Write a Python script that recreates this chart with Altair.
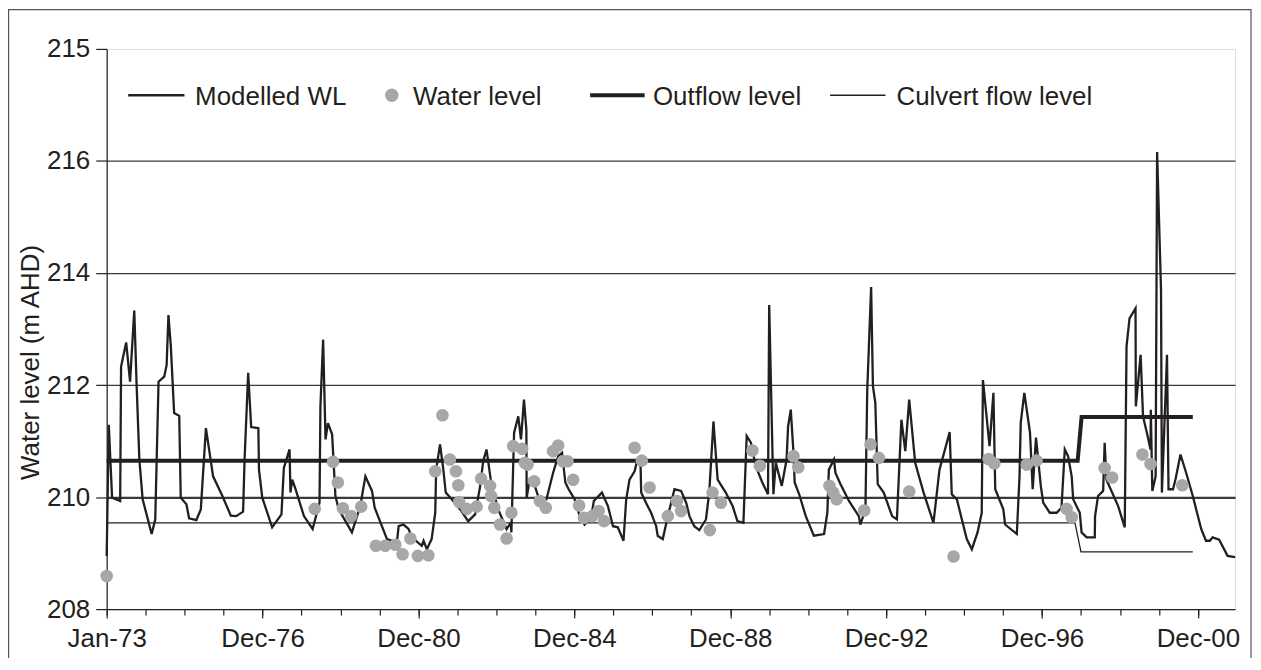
import altair as alt
import pandas as pd

# ---- data (x = category index along the axis) ----
wl_idx = [0, 0.7, 1.8, 4.5, 4.8, 6.5, 7.8, 9.2, 10.0, 10.9,
          12.0, 15.0, 16.2, 17.3, 19.2, 20.0, 20.6, 21.4, 22.5, 24.2,
          24.7, 26.6, 27.5, 29.9, 31.4, 33.1, 35.5, 38.6, 41.4, 43.2,
          45.5, 46.0, 47.2, 48.2, 50.6, 50.8, 51.9, 55.2, 58.3, 59.1,
          61.0, 61.3, 61.9, 63.0, 65.8, 68.7, 71.0, 71.3, 72.2, 73.0,
          73.8, 75.2, 76.3, 77.4, 81.8, 84.6, 86.3, 88.5, 89.4, 93.5,
          96.8, 97.4, 99.0, 100.7, 101.8, 105.1, 105.7, 106.8, 108.4, 109.6,
          109.9, 111.2, 112.3, 113.1, 115.1, 117.9, 120.6, 122.9, 124.5, 125.6,
          126.7, 128.4, 130.6, 133.4, 134.8, 135.0, 135.9, 137.3, 138.2, 139.2,
          140.0, 140.1, 141.1, 142.8, 143.9, 146.7, 148.9, 150.6, 151.9, 153.0,
          154.1, 156.1, 157.8, 159.4, 161.6, 162.5, 165.2, 167.2, 168.9, 170.5,
          172.4, 173.3, 174.4, 176.1, 176.9, 178.1, 178.3, 179.9, 181.6, 183.3,
          183.8, 185.5, 187.2, 189.4, 191.6, 193.3, 194.4, 196.0, 197.7, 199.9,
          201.0, 202.4, 203.8, 206.5, 208.8, 210.4, 212.4, 212.9, 213.5, 214.9,
          216.5, 218.7, 220.6, 221.0, 222.4, 223.2, 225.2, 226.8, 227.3, 228.2,
          229.1, 229.5, 231.0, 233.2, 235.9, 239.3, 240.4, 240.9, 242.6, 243.1,
          244.8, 247.6, 250.9, 251.4, 253.1, 253.7, 255.0, 255.6, 256.4, 257.2,
          259.2, 262.0, 263.6, 265.1, 266.4, 267.7, 269.7, 272.5, 275.8, 277.8,
          281.2, 281.9, 283.6, 286.9, 288.6, 290.5, 291.9, 292.3, 294.5, 295.8,
          296.4, 299.1, 299.7, 303.6, 304.5, 304.9, 306.1, 308.0, 308.9, 310.0,
          311.6, 312.4, 314.6, 316.9, 318.5, 319.6, 320.7, 321.9, 322.4, 324.6,
          325.2, 326.9, 329.6, 329.7, 330.7, 332.4, 332.9, 333.5, 337.4, 339.6,
          340.2, 341.2, 343.2, 343.3, 344.9, 345.7, 347.1, 348.2, 348.3, 348.8,
          349.9, 350.4, 351.7, 352.0, 353.7, 354.2, 355.7, 356.5, 358.2, 360.1,
          362.3, 365.1, 366.7, 368.0, 368.9, 371.1, 373.9, 376.4]
wl_val = [208.95, 211.29, 209.99, 209.93, 212.33, 212.76, 212.06, 213.33, 211.98, 210.67,
          209.96, 209.34, 209.6, 212.06, 212.15, 212.36, 213.25, 212.69, 211.5, 211.45,
          209.99, 209.87, 209.62, 209.59, 209.78, 211.23, 210.37, 210.02, 209.67, 209.66,
          209.74, 210.67, 212.22, 211.25, 211.23, 210.49, 209.99, 209.46, 209.69, 210.52,
          210.85, 210.08, 210.31, 210.14, 209.66, 209.43, 209.9, 211.62, 212.81, 211.03,
          211.32, 211.12, 210.02, 209.78, 209.37, 209.84, 210.37, 210.11, 209.81, 209.25,
          209.19, 209.48, 209.51, 209.43, 209.28, 209.13, 209.22, 209.07, 209.25, 209.72,
          210.49, 210.94, 210.49, 210.08, 209.96, 209.78, 209.57, 209.69, 210.17, 210.64,
          210.85, 210.2, 209.78, 209.43, 209.54, 209.37, 211.15, 211.44, 211.03, 211.74,
          211.2, 209.99, 210.31, 210.2, 210.02, 209.96, 210.43, 210.73, 210.79, 210.26,
          210.14, 209.96, 209.66, 209.51, 209.63, 209.93, 210.08, 209.84, 209.48, 209.46,
          209.22, 209.96, 210.31, 210.46, 210.64, 210.55, 210.08, 209.9, 209.72, 209.48,
          209.31, 209.25, 209.66, 210.14, 210.11, 209.9, 209.66, 209.48, 209.41, 209.6,
          210.08, 211.35, 210.31, 210.08, 209.84, 209.57, 209.54, 210.26, 211.09, 210.97,
          210.55, 210.26, 210.05, 213.43, 210.05, 210.61, 210.2, 210.67, 211.26, 211.56,
          210.79, 210.26, 210.05, 209.66, 209.31, 209.34, 209.72, 210.49, 210.67, 210.43,
          210.23, 209.93, 209.66, 209.51, 209.78, 211.9, 213.75, 211.98, 211.68, 210.23,
          210.08, 209.66, 209.6, 211.38, 210.82, 211.74, 210.61, 210.08, 209.54, 210.49,
          211.16, 210.05, 209.96, 209.25, 209.07, 209.37, 209.72, 212.09, 210.91, 211.86,
          210.14, 209.78, 209.51, 209.34, 210.37, 211.32, 211.86, 211.15, 210.14, 211.06,
          210.2, 209.9, 209.72, 209.72, 209.81, 210.85, 210.73, 210.37, 209.96, 209.72,
          209.37, 209.28, 209.28, 209.66, 210.02, 210.11, 210.97, 210.31, 209.84, 209.46,
          212.69, 213.19, 213.37, 211.62, 212.54, 211.44, 211.12, 210.85, 211.56, 210.11,
          210.37, 216.16, 213.7, 210.08, 212.54, 210.14, 210.14, 210.31, 210.76, 210.43,
          210.02, 209.43, 209.22, 209.22, 209.28, 209.24, 208.95, 208.93]

obs_idx = [0, 69.4, 75.5, 77.1, 78.8, 81.6, 84.9, 89.8, 92.9, 96.3,
           98.7, 101.3, 103.8, 107.3, 109.6, 112.0, 114.5, 116.5, 117.3, 117.6,
           120.1, 123.4, 124.9, 127.9, 128.2, 129.3, 131.2, 133.4, 135.0, 135.6,
           138.6, 139.5, 140.4, 142.6, 144.5, 146.5, 148.9, 150.6, 152.2, 153.7,
           155.6, 157.6, 159.2, 162.0, 164.1, 165.9, 176.1, 178.5, 181.1, 187.2,
           190.2, 191.6, 201.2, 202.1, 204.9, 215.4, 217.9, 229.1, 230.7, 241.1,
           242.4, 243.5, 252.7, 254.8, 257.6, 267.7, 282.5, 294.2, 296.1, 306.9,
           310.2, 320.2, 321.9, 332.9, 335.4, 345.5, 348.2, 358.8]
obs_val = [208.59, 209.79, 210.63, 210.26, 209.8, 209.66, 209.83, 209.13, 209.13, 209.15,
           208.98, 209.26, 208.95, 208.96, 210.46, 211.46, 210.67, 210.46, 210.21, 209.91,
           209.79, 209.83, 210.33, 210.2, 210.02, 209.81, 209.51, 209.26, 209.72, 210.91,
           210.86, 210.61, 210.58, 210.28, 209.93, 209.81, 210.82, 210.92, 210.64, 210.64,
           210.31, 209.85, 209.63, 209.66, 209.75, 209.57, 210.88, 210.65, 210.17, 209.66,
           209.93, 209.75, 209.41, 210.08, 209.9, 210.83, 210.56, 210.73, 210.53, 210.2,
           210.08, 209.96, 209.76, 210.94, 210.7, 210.1, 208.94, 210.68, 210.6, 210.58,
           210.65, 209.79, 209.64, 210.52, 210.35, 210.76, 210.59, 210.21]

outflow_idx = [0, 323.9, 325.2, 362.3]
outflow_val = [210.65, 210.65, 211.43, 211.43]
culvert_idx = [0, 323.0, 325.0, 362.3]
culvert_val = [209.54, 209.54, 209.02, 209.02]

tick_labels = ["Jan-73", "Dec-76", "Dec-80", "Dec-84", "Dec-88", "Dec-92", "Dec-96", "Dec-00"]
minor_step = 13
major_step = 52
x_end = 376.4
y_ticks = [208, 210, 212, 214, 216, 218]
legend_names = ["Modelled WL", "Water level", "Outflow level", "Culvert flow level"]

# ---- styling ----
INK = "#231f20"
GREY = "#a7a7a9"
FONT = "Liberation Sans"
W, H = 1132, 562

xs = alt.Scale(domain=[0, x_end], nice=False, zero=False)
ys = alt.Scale(domain=[208, 218], nice=False, zero=False)

wl_df = pd.DataFrame({"x": wl_idx, "y": wl_val})
obs_df = pd.DataFrame({"x": obs_idx, "y": obs_val})
out_df = pd.DataFrame({"x": outflow_idx, "y": outflow_val})
cul_df = pd.DataFrame({"x": culvert_idx, "y": culvert_val})

label_js = "[" + ",".join("'%s'" % t for t in tick_labels) + "]"

y_axis = alt.Axis(
    values=y_ticks, format="d",
    labelExpr="datum.value == 218 ? '215' : datum.label",
    title="Water level (m AHD)",
    titleFontSize=26, titleFont=FONT, titleFontWeight="normal", titleColor=INK,
    titlePadding=3, titleY=314,
    labelFontSize=26, labelFont=FONT, labelColor=INK, labelPadding=6,
    tickSize=11, tickColor=INK, tickWidth=1.2,
    domainColor=INK, domainWidth=1.2,
    grid=True, gridColor="#3a3a3a",
    gridWidth={"condition": {"test": "datum.value === 210", "value": 2.2}, "value": 1.2},
    gridOpacity={"condition": {"test": "datum.value === 208 || datum.value === 218", "value": 0}, "value": 1},
)

x_minor = alt.Axis(
    values=list(range(0, int(x_end) + 1, minor_step)),
    labels=False, title=None, grid=False, orient="bottom",
    tickSize=6, tickColor=INK, tickWidth=1.2,
    domain=True, domainColor=INK, domainWidth=1.2,
)
x_major = alt.Axis(
    values=list(range(0, int(x_end) + 1, major_step)),
    labelExpr=label_js + "[round(datum.value / %d)]" % major_step,
    title=None, grid=False, orient="bottom", domain=False,
    tickSize=9, tickColor=INK, tickWidth=1.2,
    labelFontSize=26, labelFont=FONT, labelColor=INK, labelPadding=8,
    labelOverlap=False, labelFlush=False,
)

outflow = alt.Chart(out_df).mark_line(color=INK, strokeWidth=4).encode(
    x=alt.X("x:Q", scale=xs, axis=None), y=alt.Y("y:Q", scale=ys))
culvert = alt.Chart(cul_df).mark_line(color=INK, strokeWidth=1.3).encode(
    x=alt.X("x:Q", scale=xs, axis=None), y=alt.Y("y:Q", scale=ys))
wl = alt.Chart(wl_df).mark_line(color=INK, strokeWidth=2.3).encode(
    x=alt.X("x:Q", scale=xs, axis=x_minor), y=alt.Y("y:Q", scale=ys, axis=y_axis))
obs = alt.Chart(obs_df).mark_circle(color=GREY, size=160, opacity=1).encode(
    x=alt.X("x:Q", scale=xs, axis=x_major), y=alt.Y("y:Q", scale=ys))

# ---- legend (drawn inside the plot, like the original) ----
one = pd.DataFrame({"k": [0]})
LY = 46.5
TY = 55.8
leg = [
    alt.Chart(one).mark_rule(color=INK, strokeWidth=2.3).encode(
        x=alt.value(21.6), x2=alt.value(78), y=alt.value(LY)),
    alt.Chart(one).mark_text(text=legend_names[0], align="left", baseline="alphabetic",
                             fontSize=26, font=FONT, color=INK).encode(
        x=alt.value(88.7), y=alt.value(TY)),
    alt.Chart(one).mark_circle(color=GREY, size=180, opacity=1).encode(
        x=alt.value(286), y=alt.value(LY)),
    alt.Chart(one).mark_text(text=legend_names[1], align="left", baseline="alphabetic",
                             fontSize=26, font=FONT, color=INK).encode(
        x=alt.value(307.3), y=alt.value(TY)),
    alt.Chart(one).mark_rule(color=INK, strokeWidth=4).encode(
        x=alt.value(485), x2=alt.value(539.7), y=alt.value(LY)),
    alt.Chart(one).mark_text(text=legend_names[2], align="left", baseline="alphabetic",
                             fontSize=26, font=FONT, color=INK).encode(
        x=alt.value(548), y=alt.value(TY)),
    alt.Chart(one).mark_rule(color=INK, strokeWidth=1.3).encode(
        x=alt.value(725.7), x2=alt.value(781.3), y=alt.value(LY)),
    alt.Chart(one).mark_text(text=legend_names[3], align="left", baseline="alphabetic",
                             fontSize=26, font=FONT, color=INK).encode(
        x=alt.value(792.3), y=alt.value(TY)),
]

frame = alt.Chart(one).mark_rect(fillOpacity=0, stroke="#555555", strokeWidth=1.2).encode(
    x=alt.value(-98.4), x2=alt.value(1148), y=alt.value(-39.4), y2=alt.value(700))

chart = alt.layer(outflow, culvert, wl, obs, *leg, frame).resolve_axis(
    x="independent"
).properties(
    width=W, height=H,
    autosize=alt.AutoSizeParams(type="none"),
    padding={"left": 99, "top": 40, "right": 18, "bottom": 48},
).configure_view(stroke=INK, strokeWidth=1.2).configure(background="white")

chart.save("out.html", embed_options={"renderer": "svg", "actions": False})
